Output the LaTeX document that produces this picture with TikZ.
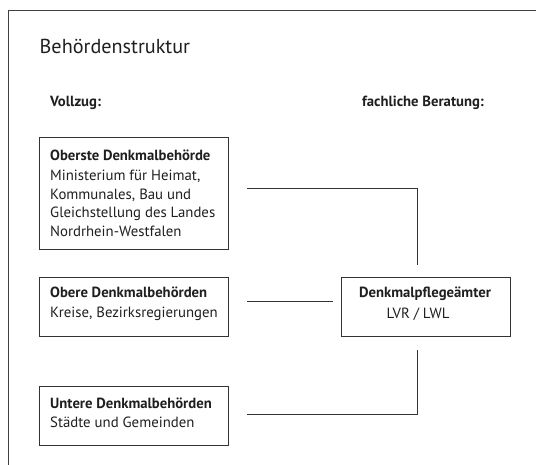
\documentclass[tikz,border=0pt]{standalone}
\usepackage{fontspec}
\setmainfont{PT Sans}
\begin{document}
\begin{tikzpicture}[x=1pt,y=-1pt,
  frameline/.style={draw=black!75,line width=0.9pt},
  box/.style={draw=black!80,line width=0.9pt,anchor=north west,inner sep=0pt},
  conn/.style={draw=black!80,line width=0.9pt},
  txt/.style={inner sep=0pt,anchor=base west,text=black!88,font=\fontsize{14.8}{17}\selectfont},
  btxt/.style={txt,font=\fontsize{14.7}{17}\selectfont\bfseries},
  ttl/.style={txt,font=\fontsize{20.2}{24}\selectfont}]
\useasboundingbox (0,0) rectangle (536,465);
\path[fill=white] (0,0) rectangle (536,465);
% frame
\draw[frameline] (536,10) -- (8,10) -- (8,465);
% headings
\node[ttl] (title) at (39.5,54) {Behördenstruktur};
\node[btxt] (vollzug) at (50,106.5) {Vollzug:};
\node[btxt] (beratung) at (362,106.5) {fachliche Beratung:};
% boxes
\node[box,minimum width=189,minimum height=112] (b1) at (39,137) {};
\node[box,minimum width=189,minimum height=59] (b2) at (39,277) {};
\node[box,minimum width=189,minimum height=59] (b3) at (39,386) {};
\node[box,minimum width=168.5,minimum height=59] (b4) at (341,277) {};
% texts box 1
\node[btxt] (b1h) at (50,160.7) {Oberste Denkmalbehörde};
\node[txt] (b1l1) at (50,181) {Ministerium für Heimat,};
\node[txt] (b1l2) at (50,199.5) {Kommunales, Bau und};
\node[txt] (b1l3) at (50,218) {Gleichstellung des Landes};
\node[txt] (b1l4) at (50,236.3) {Nordrhein-Westfalen};
% box 2
\node[btxt] (b2h) at (50,298) {Obere Denkmalbehörden};
\node[txt] (b2l1) at (50,318) {Kreise, Bezirksregierungen};
% box 3
\node[btxt] (b3h) at (50,408.5) {Untere Denkmalbehörden};
\node[txt] (b3l1) at (50,427) {Städte und Gemeinden};
% box 4
\node[btxt,anchor=base] (b4h) at (425,297.7) {Denkmalpflegeämter};
\node[txt,anchor=base] (b4l1) at (418,319) {LVR / LWL};
% connectors
\coordinate (c1s) at (247,188);
\coordinate (c1e) at (417,265);
\coordinate (c2s) at (247,301.5);
\coordinate (c2e) at (332.5,301.5);
\coordinate (c3s) at (247,414.7);
\coordinate (c3e) at (417.5,350);
\draw[conn] (c1s) -| (c1e);
\draw[conn] (c2s) -- (c2e);
\draw[conn] (c3s) -| (c3e);
\end{tikzpicture}
\end{document}
